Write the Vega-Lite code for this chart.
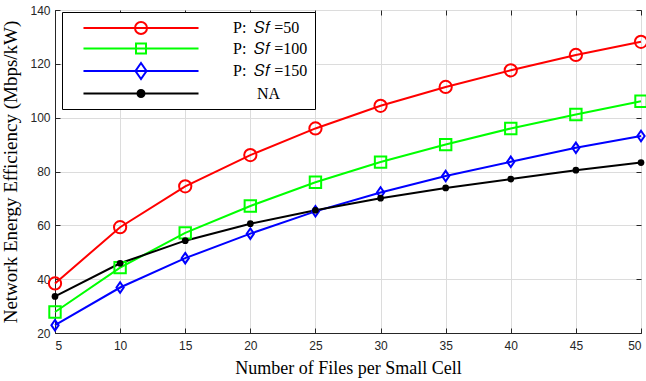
{
  "$schema": "https://vega.github.io/schema/vega-lite/v6.json",
  "width": 586,
  "height": 323,
  "autosize": "none",
  "padding": {"left": 55, "top": 10, "right": 5, "bottom": 48},
  "background": "white",
  "config": {
    "view": {"stroke": "black", "strokeWidth": 1},
    "axis": {
      "labelFont": "Liberation Sans", "labelFontSize": 12, "labelColor": "#262626",
      "titleFont": "Liberation Serif", "titleFontSize": 18, "titleFontWeight": "normal", "titleColor": "black",
      "domainColor": "#262626", "tickColor": "#262626", "gridColor": "#dcdcdc", "gridWidth": 1
    }
  },
  "data": {"values": [
    {"x": 5, "s": "P50", "v": 38.4}, {"x": 10, "s": "P50", "v": 59.3}, {"x": 15, "s": "P50", "v": 74.5}, {"x": 20, "s": "P50", "v": 86.1}, {"x": 25, "s": "P50", "v": 96.0}, {"x": 30, "s": "P50", "v": 104.4}, {"x": 35, "s": "P50", "v": 111.4}, {"x": 40, "s": "P50", "v": 117.6}, {"x": 45, "s": "P50", "v": 123.3}, {"x": 50, "s": "P50", "v": 128.2},
    {"x": 5, "s": "P100", "v": 27.8}, {"x": 10, "s": "P100", "v": 44.3}, {"x": 15, "s": "P100", "v": 57.2}, {"x": 20, "s": "P100", "v": 67.2}, {"x": 25, "s": "P100", "v": 76.0}, {"x": 30, "s": "P100", "v": 83.5}, {"x": 35, "s": "P100", "v": 90.0}, {"x": 40, "s": "P100", "v": 96.0}, {"x": 45, "s": "P100", "v": 101.2}, {"x": 50, "s": "P100", "v": 106.1},
    {"x": 5, "s": "P150", "v": 22.9}, {"x": 10, "s": "P150", "v": 36.9}, {"x": 15, "s": "P150", "v": 47.8}, {"x": 20, "s": "P150", "v": 56.9}, {"x": 25, "s": "P150", "v": 65.2}, {"x": 30, "s": "P150", "v": 72.2}, {"x": 35, "s": "P150", "v": 78.3}, {"x": 40, "s": "P150", "v": 83.6}, {"x": 45, "s": "P150", "v": 88.8}, {"x": 50, "s": "P150", "v": 93.2},
    {"x": 5, "s": "NA", "v": 33.6}, {"x": 10, "s": "NA", "v": 45.9}, {"x": 15, "s": "NA", "v": 54.3}, {"x": 20, "s": "NA", "v": 60.6}, {"x": 25, "s": "NA", "v": 65.6}, {"x": 30, "s": "NA", "v": 70.1}, {"x": 35, "s": "NA", "v": 73.9}, {"x": 40, "s": "NA", "v": 77.2}, {"x": 45, "s": "NA", "v": 80.5}, {"x": 50, "s": "NA", "v": 83.3}
  ]},
  "layer": [
    {
      "layer": [
        {
          "mark": {"type": "line", "strokeWidth": 2},
          "encoding": {
            "x": {"field": "x", "type": "quantitative", "scale": {"domain": [5, 50], "nice": false},
              "axis": {"title": "Number of Files per Small Cell", "values": [5,10,15,20,25,30,35,40,45,50], "tickSize": -5, "labelPadding": 12, "titlePadding": 8, "grid": true}},
            "y": {"field": "v", "type": "quantitative", "scale": {"domain": [20, 140], "nice": false},
              "axis": {"title": "Network Energy Efficiency (Mbps/kW)", "titleFontSize": 19, "values": [20,40,60,80,100,120,140], "tickSize": -5, "labelPadding": 10, "titlePadding": 9, "grid": true}},
            "color": {"field": "s", "type": "nominal",
              "scale": {"domain": ["P50", "P100", "P150", "NA"], "range": ["#ff0000", "#00ff00", "#0000ff", "#000000"]},
              "legend": {
                "title": null, "orient": "none", "legendX": 7, "legendY": 2,
                "labelExpr": "datum.value == 'P50' ? 'P:\u00a0\u00a0𝑆𝑓\u00a0=50' : datum.value == 'P100' ? 'P:\u00a0\u00a0𝑆𝑓\u00a0=100' : datum.value == 'P150' ? 'P:\u00a0\u00a0𝑆𝑓\u00a0=150' : '\u200b\u00a0\u00a0\u00a0\u00a0\u00a0\u00a0NA'",
                "labelFont": "Liberation Serif", "labelFontSize": 16, "labelColor": "black",
                "symbolSize": 256, "symbolStrokeWidth": 2, "symbolOffset": 63, "labelOffset": 83,
                "rowPadding": 1.5, "padding": 7, "strokeColor": "black", "fillColor": "white",
                "symbolFillColor": "transparent",
                "encode": {"symbols": {"update": {
                  "shape": {"signal": "datum.value == 'P50' ? 'M-7.19,0L7.19,0M-0.75,0A0.75,0.75,0,1,0,0.75,0A0.75,0.75,0,1,0,-0.75,0' : datum.value == 'P100' ? 'M-7.19,0L7.19,0M-0.625,-0.625L0.625,-0.625L0.625,0.625L-0.625,0.625Z' : datum.value == 'P150' ? 'M-7.19,0L7.19,0M0,-1L0.69,0L0,1L-0.69,0Z' : 'M-7.19,0L7.19,0M-0.44,0A0.44,0.44,0,1,0,0.44,0A0.44,0.44,0,1,0,-0.44,0'"},
                  "fill": {"signal": "datum.value == 'NA' ? 'black' : 'transparent'"},
                  "fillOpacity": {"signal": "datum.value == 'NA' ? 1 : 0"},
                  "opacity": {"value": 1}
                }}}
              }}
          }
        },
        {
          "transform": [{"filter": "datum.s != 'NA'"}],
          "mark": {"type": "point", "filled": false, "strokeWidth": 2, "opacity": 1},
          "encoding": {
            "x": {"field": "x", "type": "quantitative"},
            "y": {"field": "v", "type": "quantitative"},
            "color": {"field": "s", "type": "nominal", "legend": null},
            "shape": {"field": "s", "type": "nominal", "legend": null,
              "scale": {"domain": ["P50", "P100", "P150"], "range": ["circle", "square", "M0,-1L0.69,0L0,1L-0.69,0Z"]}},
            "size": {"field": "s", "type": "nominal", "legend": null,
              "scale": {"domain": ["P50", "P100", "P150"], "range": [150, 110, 256]}}
          }
        },
        {
          "transform": [{"filter": "datum.s == 'NA'"}],
          "mark": {"type": "point", "filled": true, "shape": "circle", "size": 45, "opacity": 1},
          "encoding": {
            "x": {"field": "x", "type": "quantitative"},
            "y": {"field": "v", "type": "quantitative"},
            "color": {"field": "s", "type": "nominal", "legend": null}
          }
        }
      ]
    },
    {
      "mark": {"type": "point", "opacity": 0},
      "encoding": {
        "x": {"field": "x", "type": "quantitative", "axis": {"orient": "top", "title": null, "labels": false, "grid": false, "domain": false, "values": [5,10,15,20,25,30,35,40,45,50], "tickSize": -5}},
        "y": {"field": "v", "type": "quantitative", "axis": {"orient": "right", "title": null, "labels": false, "grid": false, "domain": false, "values": [20,40,60,80,100,120,140], "tickSize": -5}}
      }
    }
  ],
  "resolve": {"axis": {"x": "independent", "y": "independent"}}
}
